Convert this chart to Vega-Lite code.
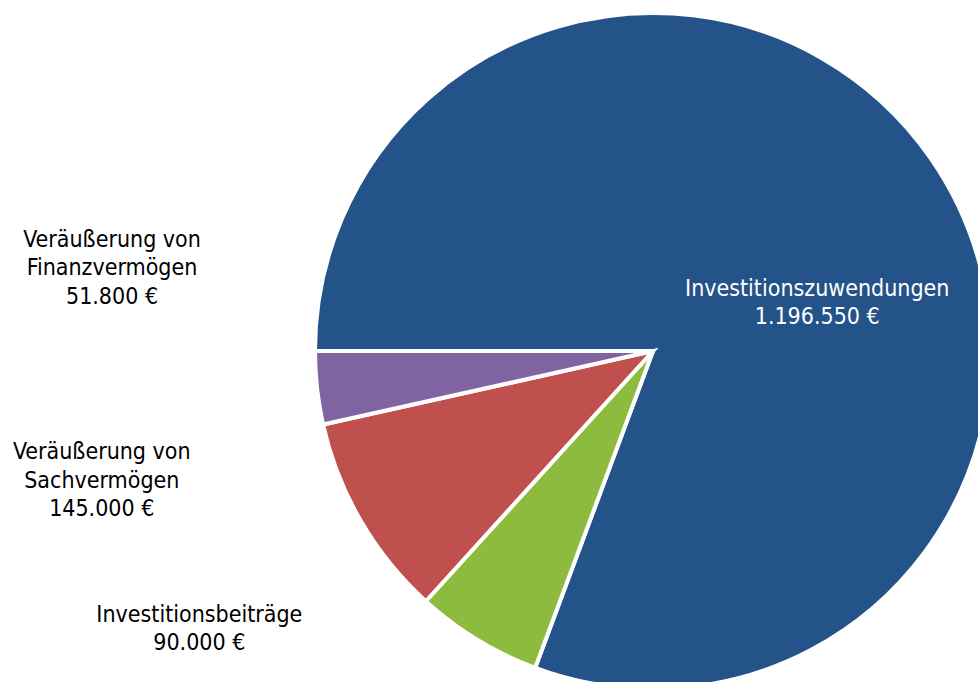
{
  "$schema": "https://vega.github.io/schema/vega-lite/v6.json",
  "width": 1306,
  "height": 702,
  "autosize": {"type": "none"},
  "padding": {"left": 0, "top": 0, "right": -328, "bottom": -20},
  "background": "white",
  "config": {"view": {"stroke": null}, "text": {"font": "DejaVu Sans Condensed", "fontSize": 23}},
  "data": {"values": [
    {"category": "Investitionszuwendungen", "value": 1196550, "order": 1},
    {"category": "Investitionsbeiträge", "value": 90000, "order": 2},
    {"category": "Veräußerung von Sachvermögen", "value": 145000, "order": 3},
    {"category": "Veräußerung von Finanzvermögen", "value": 51800, "order": 4}
  ]},
  "transform": [
    {"calculate": "replace(datum.category, 'von ', 'von\\n') + '\\n' + replace(format(datum.value, ',d'), regexp(',', 'g'), '.') + ' €'", "as": "label"}
  ],
  "encoding": {
    "theta": {"field": "value", "type": "quantitative", "stack": true, "scale": {"range": [4.71238898, 10.99557429]}},
    "order": {"field": "order", "type": "quantitative"},
    "color": {
      "field": "category", "type": "nominal", "legend": null,
      "scale": {
        "domain": ["Investitionszuwendungen", "Investitionsbeiträge", "Veräußerung von Sachvermögen", "Veräußerung von Finanzvermögen"],
        "range": ["#24538A", "#8DBB3E", "#C0504D", "#8064A2"]
      }
    }
  },
  "layer": [
    {"mark": {"type": "arc", "outerRadius": 338, "stroke": "white", "strokeWidth": 4, "strokeJoin": "miter"}},
    {
      "mark": {"type": "text", "radius": 200, "dy": 52, "align": "center", "baseline": "middle", "lineBreak": "\n", "lineHeight": 28.5},
      "encoding": {
        "color": {"value": "white"},
        "text": {"condition": {"test": "datum.category === 'Investitionszuwendungen'", "field": "label"}, "value": ""}
      }
    },
    {
      "mark": {"type": "text", "radius": 338, "dx": -205, "dy": -148.5, "align": "center", "baseline": "middle", "lineBreak": "\n", "lineHeight": 28.5},
      "encoding": {
        "color": {"value": "black"},
        "text": {"condition": {"test": "datum.category === 'Veräußerung von Finanzvermögen'", "field": "label"}, "value": ""}
      }
    },
    {
      "mark": {"type": "text", "radius": 338, "dx": -259, "dy": -68.5, "align": "center", "baseline": "middle", "lineBreak": "\n", "lineHeight": 28.5},
      "encoding": {
        "color": {"value": "black"},
        "text": {"condition": {"test": "datum.category === 'Veräußerung von Sachvermögen'", "field": "label"}, "value": ""}
      }
    },
    {
      "mark": {"type": "text", "radius": 338, "dx": -278, "dy": -25, "align": "center", "baseline": "middle", "lineBreak": "\n", "lineHeight": 28.5},
      "encoding": {
        "color": {"value": "black"},
        "text": {"condition": {"test": "datum.category === 'Investitionsbeiträge'", "field": "label"}, "value": ""}
      }
    }
  ]
}
